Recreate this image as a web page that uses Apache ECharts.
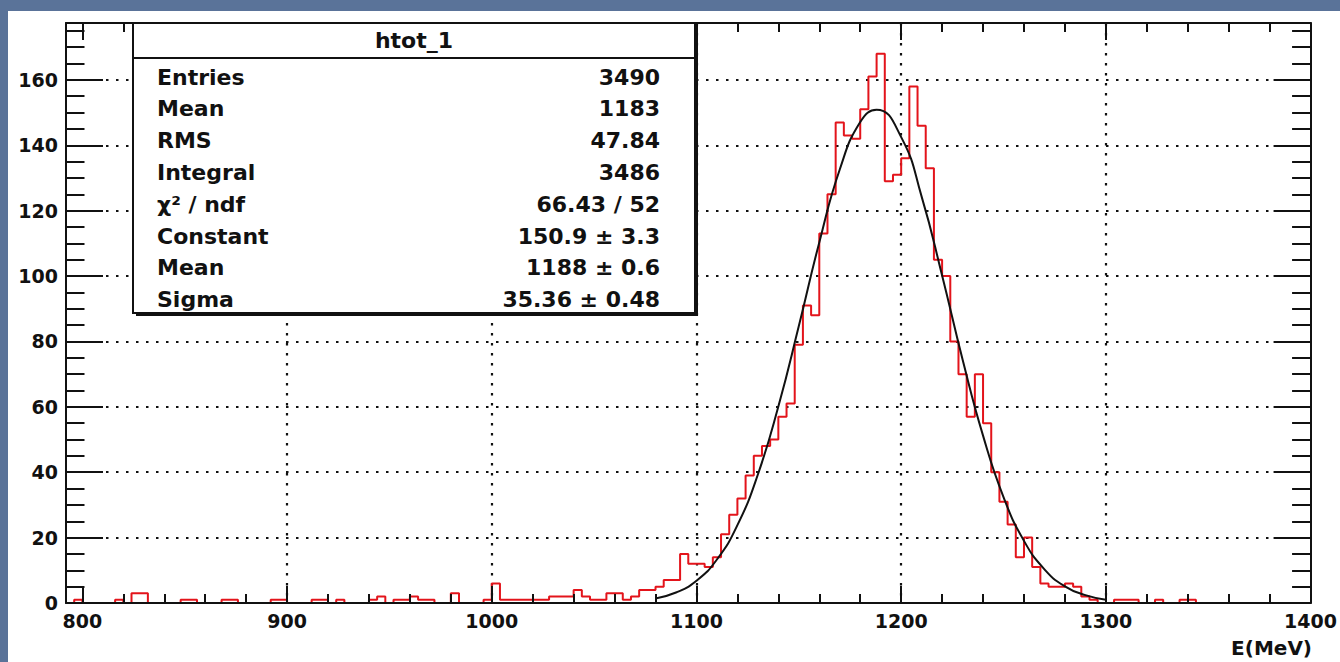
<!DOCTYPE html>
<html>
<head>
<meta charset="utf-8">
<title>htot_1</title>
<script src="https://cdn.jsdelivr.net/npm/echarts@6/dist/echarts.min.js"></script>
<style>
  body { margin: 0; background: #5a7399; }
  #main { position: absolute; left: 8px; top: 11px; width: 1332px; height: 651px; background: #fff; }
</style>
</head>
<body>
<div id="main"></div>
<script>
// histogram: 152 bins of 4 MeV starting at 792
var binLow = 792
var binWidth = 4
var counts = [
  0, 1, 0, 0, 0, 0, 1, 0, 3, 3,
  0, 0, 0, 0, 1, 1, 0, 0, 0, 1,
  1, 0, 0, 0, 0, 1, 1, 0, 0, 0,
  1, 1, 0, 1, 0, 0, 0, 1, 2, 0,
  1, 1, 2, 1, 1, 0, 0, 3, 0, 0,
  0, 1, 6, 1, 1, 1, 1, 1, 1, 2,
  2, 2, 4, 2, 1, 1, 3, 3, 1, 2,
  4, 4, 5, 7, 7, 15, 12, 12, 11, 14,
  21, 27, 32, 39, 45, 48, 50, 57, 61, 79,
  91, 88, 113, 125, 147, 143, 142, 151, 161, 168,
  129, 131, 136, 158, 146, 133, 105, 100, 80, 70,
  57, 70, 55, 40, 31, 24, 14, 20, 11, 6,
  5, 5, 6, 5, 2, 1, 0, 0, 1, 1,
  1, 0, 0, 1, 0, 0, 1, 1, 0, 0,
  0, 0, 0, 0, 0, 0, 0, 0, 0, 0, 0, 0
]

// gaussian fit curve
var fitX = [1080, 1090, 1100, 1110, 1120, 1130, 1140, 1150, 1160, 1170, 1180, 1188,
  1200, 1210, 1220, 1230, 1240, 1250, 1260, 1270, 1280, 1290, 1300]
var fitY = [1.4, 3.2, 6.8, 13.3, 23.8, 39.3, 60.1, 84.7, 110.3, 132.6, 147.1, 150.9,
  142.5, 124.3, 100.2, 74.5, 51.2, 32.4, 19.0, 10.3, 5.1, 2.4, 1.0]

var xLabels = [800, 900, 1000, 1100, 1200, 1300, 1400]
var xGrid = [900, 1000, 1100, 1200, 1300]
var yLabels = [0, 20, 40, 60, 80, 100, 120, 140, 160]
var yGrid = [20, 40, 60, 80, 100, 120, 140, 160]

var statTitle = 'htot_1'
var statNames = ['Entries', 'Mean', 'RMS', 'Integral', 'χ² / ndf', 'Constant', 'Mean', 'Sigma']
var statValues = ['3490', '1183', '47.84', '3486', '66.43 / 52', '150.9 ± 3.3', '1188 ± 0.6', '35.36 ± 0.48']

var FONT = '"DejaVu Sans", sans-serif'
var INK = '#111'

var xMinor = []
for (var v = 800; v <= 1400; v += 20) xMinor.push(v)
var yMinor = []
for (var w = 5; w <= 175; w += 5) yMinor.push(w)

function frameAxis(type, pos, ticks, len, extra) {
  var ax = {
    type: 'value',
    position: pos,
    min: type === 'x' ? 792 : 0,
    max: type === 'x' ? 1400 : 177.4,
    z: 3,
    axisLine: { show: false, onZero: false, lineStyle: { color: INK, width: 2 } },
    axisTick: { show: true, inside: true, length: len, customValues: ticks, lineStyle: { color: INK, width: 2 } },
    axisLabel: { show: false },
    splitLine: { show: false }
  }
  return Object.assign(ax, extra || {})
}

var labelStyle = {
  fontFamily: FONT, fontSize: 19, fontWeight: 'bold', color: INK,
  formatter: function (val) { return String(val) }
}
var dotted = { show: true, lineStyle: { color: INK, width: 2.2, type: [2.5, 7.5] } }

var xAxes = [
  frameAxis('x', 'bottom', xLabels, 17, {
    axisLine: { show: true, onZero: false, lineStyle: { color: INK, width: 2 } },
    axisLabel: Object.assign({ show: true, customValues: xLabels, margin: 8 }, labelStyle)
  }),
  frameAxis('x', 'bottom', xMinor, 9),
  frameAxis('x', 'top', xLabels, 17, {
    axisLine: { show: true, onZero: false, lineStyle: { color: INK, width: 2 } }
  }),
  frameAxis('x', 'top', xMinor, 9),
  frameAxis('x', 'bottom', xGrid, 0, {
    z: 0,
    axisTick: { show: false, customValues: xGrid },
    splitLine: dotted
  })
]

var yAxes = [
  frameAxis('y', 'left', yLabels, 37, {
    axisLine: { show: true, onZero: false, lineStyle: { color: INK, width: 2 } },
    axisLabel: Object.assign({ show: true, customValues: yLabels, margin: 8 }, labelStyle)
  }),
  frameAxis('y', 'left', yMinor, 18.5),
  frameAxis('y', 'right', yLabels, 37, {
    axisLine: { show: true, onZero: false, lineStyle: { color: INK, width: 2 } }
  }),
  frameAxis('y', 'right', yMinor, 18.5),
  frameAxis('y', 'left', yGrid, 0, {
    z: 0,
    axisTick: { show: false, customValues: yGrid },
    splitLine: dotted
  })
]

var histData = counts.map(function (c, i) { return [binLow + i * binWidth, c] })
histData.push([binLow + counts.length * binWidth, counts[counts.length - 1]])
var fitData = fitX.map(function (x, i) { return [x, fitY[i]] })

// stats box (ROOT style)
var boxX = 125, boxY = 12, boxW = 562, boxH = 290
var txtFont = 'bold 22px ' + FONT
var graphic = [
  { type: 'rect', z: 100, shape: { x: boxX + 3, y: boxY + 3, width: boxW, height: boxH }, style: { fill: INK } },
  { type: 'rect', z: 101, shape: { x: boxX, y: boxY, width: boxW, height: boxH }, style: { fill: '#fff', stroke: INK, lineWidth: 2 } },
  { type: 'line', z: 102, shape: { x1: boxX, y1: 47, x2: boxX + boxW, y2: 47 }, style: { stroke: INK, lineWidth: 2 } },
  { type: 'text', z: 102, x: boxX + boxW / 2, y: 29,
    style: { text: statTitle, font: txtFont, fill: INK, align: 'center', verticalAlign: 'middle', textAlign: 'center', textVerticalAlign: 'middle' } },
  { type: 'text', z: 102, x: 1304, y: 637,
    style: { text: 'E(MeV)', font: 'bold 20px ' + FONT, fill: INK, align: 'right', verticalAlign: 'middle', textAlign: 'right', textVerticalAlign: 'middle' } }
]
statNames.forEach(function (name, i) {
  var y = 66 + i * 31.8
  graphic.push({ type: 'text', z: 102, x: 149, y: y,
    style: { text: name, font: txtFont, fill: INK, align: 'left', verticalAlign: 'middle', textAlign: 'left', textVerticalAlign: 'middle' } })
  graphic.push({ type: 'text', z: 102, x: 652, y: y,
    style: { text: statValues[i], font: txtFont, fill: INK, align: 'right', verticalAlign: 'middle', textAlign: 'right', textVerticalAlign: 'middle' } })
})

var chart = echarts.init(document.getElementById('main'), null, { renderer: 'svg' })
chart.setOption({
  animation: false,
  backgroundColor: '#fff',
  grid: { left: 58, top: 12, width: 1247, height: 580 },
  xAxis: xAxes,
  yAxis: yAxes,
  series: [{
    name: 'htot_1',
    type: 'line',
    step: 'end',
    data: histData,
    symbol: 'none',
    z: 2,
    lineStyle: { color: '#e3141b', width: 2 }
  }, {
    name: 'fit',
    type: 'line',
    smooth: true,
    data: fitData,
    symbol: 'none',
    z: 2,
    lineStyle: { color: INK, width: 2 }
  }],
  graphic: graphic
})
</script>
</body>
</html>
